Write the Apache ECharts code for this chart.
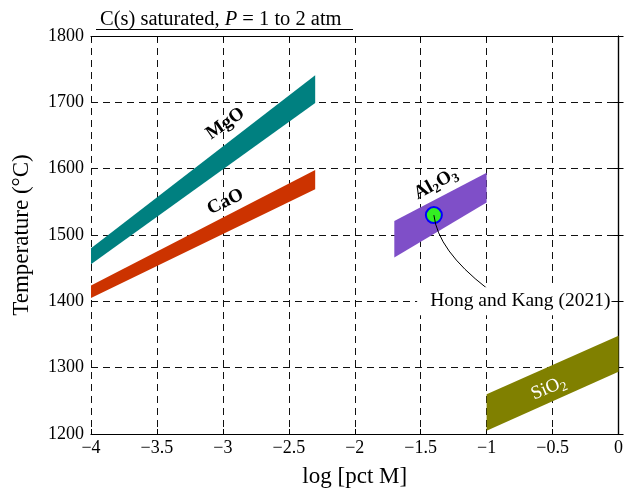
<!DOCTYPE html>
<html>
<head>
<meta charset="utf-8">
<script src="https://cdn.jsdelivr.net/npm/echarts@6/dist/echarts.min.js"></script>
<style>
html,body{margin:0;padding:0;background:#fff;}
#chart{width:626px;height:493px;}
</style>
</head>
<body>
<div id="chart"></div>
<script>
// ---- data ----
const xTicks = [-4, -3.5, -3, -2.5, -2, -1.5, -1, -0.5, 0];
const yTicks = [1200, 1300, 1400, 1500, 1600, 1700, 1800];

const mgoX = [-4, -2.3];
const mgoUpper = [1480, 1741];
const mgoLower = [1456, 1699];

const caoX = [-4, -2.3];
const caoUpper = [1424, 1598];
const caoLower = [1405, 1569];

const al2o3X = [-1.7, -1.0];
const al2o3Upper = [1521, 1594];
const al2o3Lower = [1466, 1549];

const sio2X = [-1.0, 0];
const sio2Upper = [1260, 1348];
const sio2Lower = [1205, 1294];

const pointHongKang = [-1.4, 1530];
const annotCurve = [[-1.4, 1530], [-1.37, 1477], [-1.0, 1420]];
const annotTextPos = [-0.79, 1400];
const annotText = 'Hong and Kang (2021)';

const labelNames = ['MgO', 'CaO', 'Al2O3', 'SiO2'];
const labelX = [-2.98, -2.98, -1.385, -0.53];
const labelY = [1668, 1550, 1577, 1269];
const labelAngle = [35, 26, 29, 23];

const FONT = 'Liberation Serif';

const bands = [
  {x: mgoX, up: mgoUpper, lo: mgoLower, color: '#008080'},
  {x: caoX, up: caoUpper, lo: caoLower, color: '#cc3300'},
  {x: al2o3X, up: al2o3Upper, lo: al2o3Lower, color: '#7f4fc8'},
  {x: sio2X, up: sio2Upper, lo: sio2Lower, color: '#808000'}
];

const labelRich = {
  b: {fontFamily: FONT, fontSize: 19, fontWeight: 'bold', fill: '#000'},
  bs: {fontFamily: FONT, fontSize: 13, fontWeight: 'bold', fill: '#000', padding: [10, 0, 0, 0]},
  w: {fontFamily: FONT, fontSize: 19, fill: '#fff'},
  ws: {fontFamily: FONT, fontSize: 13, fill: '#fff', padding: [10, 0, 0, 0]}
};
const labelTexts = [
  '{b|MgO}',
  '{b|CaO}',
  '{b|Al}{bs|2}{b|O}{bs|3}',
  '{w|SiO}{ws|2}'
];

const chart = echarts.init(document.getElementById('chart'), null, {renderer: 'canvas'});

const fmt = v => (v < 0 ? '\u2212' + String(-v) : String(v));

const axisLineStyle = {color: '#000', width: 1.2};
const tickStyle = {show: true, inside: true, length: 5, lineStyle: {color: '#000', width: 1}};

const option = {
  animation: false,
  backgroundColor: '#fff',
  title: {
    text: '{n|C(s) saturated, }{i|P}{n| = 1 to 2 atm}',
    left: 95,
    top: 4,
    textStyle: {
      fontWeight: 'normal',
      rich: {
        n: {fontFamily: FONT, fontSize: 20.5, fontWeight: 'normal', color: '#000'},
        i: {fontFamily: FONT, fontSize: 20.5, fontWeight: 'normal', fontStyle: 'italic', color: '#000'}
      }
    }
  },
  graphic: [
    {type: 'line', shape: {x1: 96, y1: 29.5, x2: 353, y2: 29.5}, style: {stroke: '#000', lineWidth: 1}}
  ],
  grid: {left: 91, right: 3, top: 36, bottom: 59},
  xAxis: [
    {
      type: 'value', min: -4, max: 0, interval: 0.5, position: 'bottom',
      name: 'log [pct M]', nameLocation: 'middle', nameGap: 31,
      nameTextStyle: {fontFamily: FONT, fontSize: 23, color: '#000'},
      axisLine: {show: true, lineStyle: axisLineStyle},
      axisTick: tickStyle,
      axisLabel: {fontFamily: FONT, fontSize: 18, color: '#000', margin: 5, formatter: fmt},
      splitLine: {show: true, lineStyle: {type: [7, 5], color: '#111', width: 1}}
    },
    {
      type: 'value', min: -4, max: 0, interval: 0.5, position: 'top',
      axisLine: {show: true, lineStyle: axisLineStyle},
      axisTick: tickStyle,
      axisLabel: {show: false},
      splitLine: {show: false}
    }
  ],
  yAxis: [
    {
      type: 'value', min: 1200, max: 1800, interval: 100, position: 'left',
      name: 'Temperature (\u00B0C)', nameLocation: 'middle', nameGap: 58,
      nameTextStyle: {fontFamily: FONT, fontSize: 23, color: '#000'},
      axisLine: {show: true, lineStyle: axisLineStyle},
      axisTick: tickStyle,
      axisLabel: {fontFamily: FONT, fontSize: 18, color: '#000', margin: 7, formatter: v => String(v)},
      splitLine: {show: true, lineStyle: {type: [7, 5], color: '#111', width: 1}}
    },
    {
      type: 'value', min: 1200, max: 1800, interval: 100, position: 'right',
      axisLine: {show: true, lineStyle: axisLineStyle},
      axisTick: tickStyle,
      axisLabel: {show: false},
      splitLine: {show: false}
    }
  ],
  series: [
    {
      type: 'custom',
      z: 2,
      data: bands.map(b => [b.x[0], b.lo[0]]),
      renderItem: function (params, api) {
        const b = bands[params.dataIndex];
        const pts = [];
        for (let i = 0; i < b.x.length; i++) pts.push(api.coord([b.x[i], b.up[i]]));
        for (let i = b.x.length - 1; i >= 0; i--) pts.push(api.coord([b.x[i], b.lo[i]]));
        return {type: 'polygon', shape: {points: pts}, style: {fill: b.color, stroke: null}};
      }
    },
    {
      type: 'custom',
      z: 3,
      data: labelX.map((x, i) => [x, labelY[i]]),
      renderItem: function (params, api) {
        const i = params.dataIndex;
        const p = api.coord([labelX[i], labelY[i]]);
        return {
          type: 'text',
          x: p[0], y: p[1],
          rotation: labelAngle[i] * Math.PI / 180,
          style: {text: labelTexts[i], rich: labelRich, align: 'center', verticalAlign: 'middle'}
        };
      }
    },
    {
      type: 'scatter',
      z: 4,
      data: [pointHongKang],
      symbol: 'circle',
      symbolSize: 16,
      itemStyle: {color: '#33ee22', borderColor: '#0000ff', borderWidth: 2, opacity: 1}
    },
    {
      type: 'custom',
      z: 5,
      data: [annotCurve[0]],
      renderItem: function (params, api) {
        const a = api.coord(annotCurve[0]);
        const c = api.coord(annotCurve[1]);
        const e = api.coord(annotCurve[2]);
        return {
          type: 'bezierCurve',
          shape: {x1: a[0], y1: a[1], cpx1: c[0], cpy1: c[1], x2: e[0], y2: e[1]},
          style: {stroke: '#000', lineWidth: 1, fill: null}
        };
      }
    },
    {
      type: 'custom',
      z: 6,
      data: [annotTextPos],
      renderItem: function (params, api) {
        const p = api.coord(annotTextPos);
        return {
          type: 'text',
          x: p[0], y: p[1],
          style: {
            text: annotText, fontFamily: FONT, fontSize: 19.5, fill: '#000',
            align: 'center', verticalAlign: 'middle',
            backgroundColor: '#fff', padding: [4, 1, 4, 13]
          }
        };
      }
    }
  ]
};
chart.setOption(option);
</script>
</body>
</html>
